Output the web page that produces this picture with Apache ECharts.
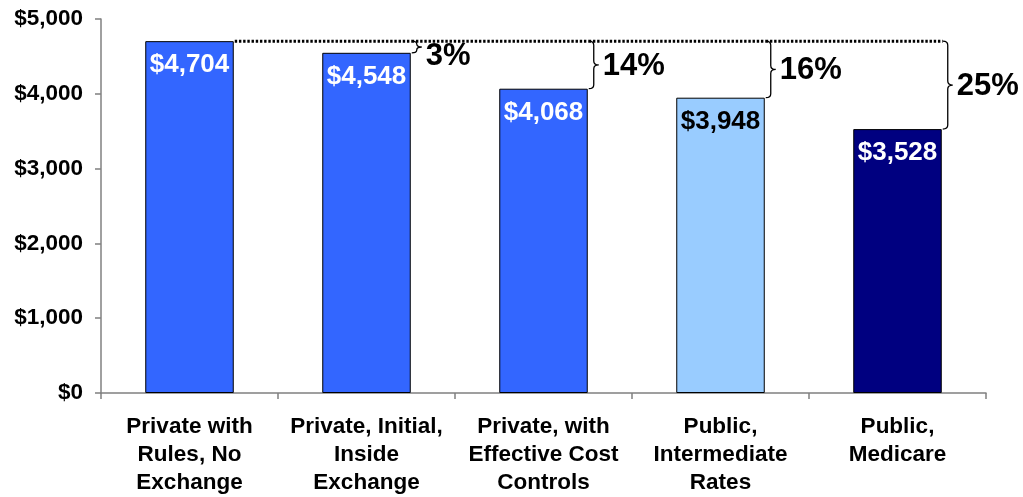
<!DOCTYPE html>
<html>
<head>
<meta charset="utf-8">
<script src="https://cdn.jsdelivr.net/npm/echarts@6/dist/echarts.min.js"></script>
<style>
  html, body { margin: 0; padding: 0; background: #fff; }
  #chart { width: 1023px; height: 497px; }
</style>
</head>
<body>
<div id="chart"></div>
<script>
// Annual premium per plan type
const categories = [
  'Private with\nRules, No\nExchange',
  'Private, Initial,\nInside\nExchange',
  'Private, with\nEffective Cost\nControls',
  'Public,\nIntermediate\nRates',
  'Public,\nMedicare'
];
const premiums = [4704, 4548, 4068, 3948, 3528];
// Savings relative to the first plan, shown beside each brace
const savingsLabels = ['', '3%', '14%', '16%', '25%'];
const yTicks = [0, 1000, 2000, 3000, 4000, 5000];

const barColors = ['#3366FF', '#3366FF', '#3366FF', '#99CCFF', '#000080'];
const labelColors = ['#FFFFFF', '#FFFFFF', '#FFFFFF', '#000000', '#FFFFFF'];
const FONT = '"Liberation Sans", Arial, sans-serif';
const BAR_RATIO = 0.5;

const chart = echarts.init(document.getElementById('chart'), null, { renderer: 'canvas' });

const fmtMoney = v => '$' + v.toLocaleString('en-US');

// Braces comparing every later plan with the first one
const braceData = [];
for (let i = 1; i < premiums.length; i++) braceData.push([i, premiums[i]]);

function renderBrace(params, api) {
  const idx = api.value(0);
  const val = api.value(1);
  const refVal = premiums[0];
  const band = api.size([1, 0])[0];
  const half = band * BAR_RATIO / 2;
  const top = api.coord([idx, refVal]);
  const bot = api.coord([idx, val]);
  const prevTop = api.coord([idx - 1, refVal]);
  const x = top[0] + half + 1;
  const y1 = top[1];
  const y2 = bot[1];
  const w = 10;
  const xm = x + w / 2;
  const ym = (y1 + y2) / 2;
  const r = Math.min(4, (y2 - y1) / 4);
  const startX = prevTop[0] + half + 1;

  const children = [];
  // dotted reference line at the first plan's premium
  children.push({
    type: 'line',
    shape: { x1: startX, y1: y1, x2: x, y2: y1 },
    style: { stroke: '#000', lineWidth: 3, lineDash: [2.4, 1.8], lineCap: 'butt' }
  });
  // curly brace
  children.push({
    type: 'path',
    shape: {
      pathData:
        'M' + x + ' ' + y1 +
        ' Q' + xm + ' ' + y1 + ' ' + xm + ' ' + (y1 + r) +
        ' L' + xm + ' ' + (ym - r) +
        ' Q' + xm + ' ' + ym + ' ' + (x + w) + ' ' + ym +
        ' Q' + xm + ' ' + ym + ' ' + xm + ' ' + (ym + r) +
        ' L' + xm + ' ' + (y2 - r) +
        ' Q' + xm + ' ' + y2 + ' ' + x + ' ' + y2
    },
    style: { stroke: '#000', lineWidth: 1.3, fill: null }
  });
  // percentage label
  children.push({
    type: 'text',
    style: {
      x: x + 14,
      y: Math.max(ym + 1.5, y1 + 15),
      text: savingsLabels[idx],
      fill: '#000',
      font: 'bold 31px ' + FONT,
      verticalAlign: 'middle',
      align: 'left'
    }
  });
  return { type: 'group', children: children };
}

chart.setOption({
  animation: false,
  backgroundColor: '#fff',
  grid: {
    left: 101, right: 37, top: 19, bottom: 104,
    containLabel: false, outerBoundsMode: 'none'
  },
  xAxis: {
    type: 'category',
    data: categories,
    boundaryGap: true,
    axisLine: { show: true, lineStyle: { color: '#808080', width: 1.5 } },
    axisTick: { show: true, length: 6, alignWithLabel: false, lineStyle: { color: '#808080', width: 1.5 } },
    axisLabel: {
      color: '#000', fontFamily: FONT, fontWeight: 'bold', fontSize: 22.5,
      lineHeight: 28, margin: 20, interval: 0
    }
  },
  yAxis: {
    type: 'value',
    min: yTicks[0],
    max: yTicks[yTicks.length - 1],
    interval: yTicks[1] - yTicks[0],
    splitLine: { show: false },
    axisLine: { show: true, lineStyle: { color: '#808080', width: 1.5 } },
    axisTick: { show: true, length: 6, lineStyle: { color: '#808080', width: 1.5 } },
    axisLabel: {
      color: '#000', fontFamily: FONT, fontWeight: 'bold', fontSize: 22.5,
      margin: 18, formatter: fmtMoney
    }
  },
  series: [
    {
      type: 'bar',
      barWidth: (BAR_RATIO * 100) + '%',
      data: premiums.map((v, i) => ({
        value: v,
        itemStyle: { color: barColors[i], borderColor: '#000', borderWidth: 1 },
        label: { color: labelColors[i] }
      })),
      label: {
        show: true,
        position: 'insideTop',
        distance: 11,
        fontFamily: FONT,
        fontWeight: 'bold',
        fontSize: 26,
        formatter: p => fmtMoney(p.value)
      }
    },
    {
      type: 'custom',
      data: braceData,
      renderItem: renderBrace,
      clip: false,
      z: 5,
      silent: true
    }
  ]
});
</script>
</body>
</html>
